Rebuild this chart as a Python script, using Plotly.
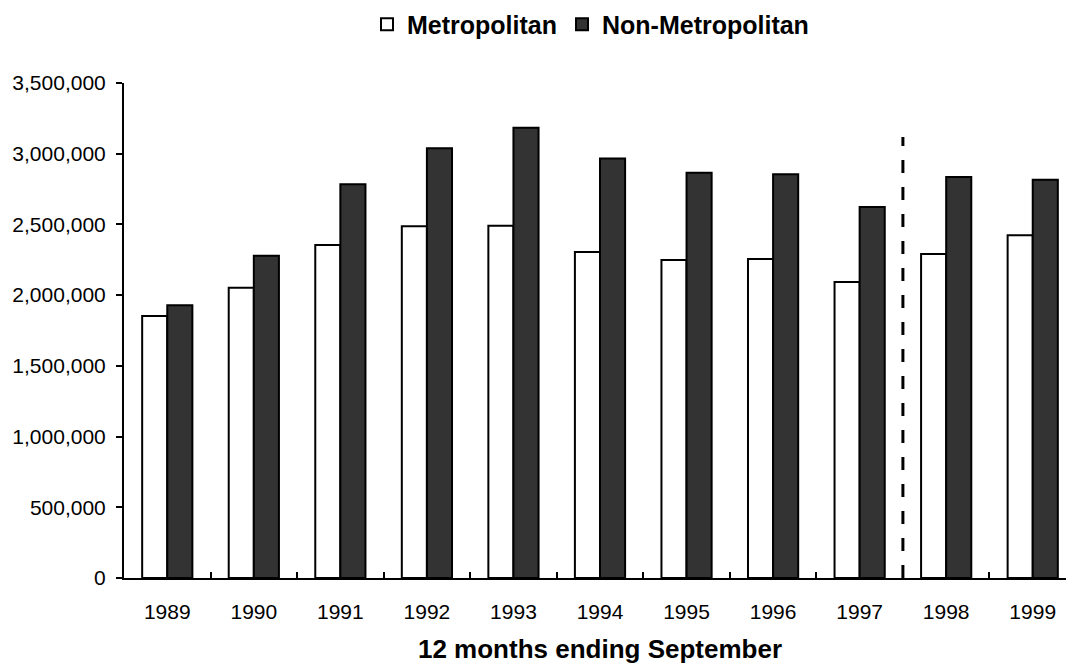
import plotly.graph_objects as go

years = ["1989", "1990", "1991", "1992", "1993", "1994", "1995", "1996", "1997", "1998", "1999"]
metropolitan = [1853000, 2053000, 2355000, 2487000, 2490000, 2305000, 2248000, 2256000, 2093000, 2291000, 2423000]
non_metropolitan = [1928000, 2279000, 2784000, 3038000, 3184000, 2967000, 2866000, 2854000, 2623000, 2835000, 2816000]
y_ticks = [0, 500000, 1000000, 1500000, 2000000, 2500000, 3000000, 3500000]
divider_top = 3118000

FONT = "Liberation Sans, Arial, sans-serif"

fig = go.Figure()
fig.add_trace(go.Bar(x=years, y=metropolitan, name="Metropolitan",
                     marker=dict(color="#ffffff", line=dict(color="#000000", width=2))))
fig.add_trace(go.Bar(x=years, y=non_metropolitan, name="Non-Metropolitan",
                     marker=dict(color="#333333", line=dict(color="#000000", width=2))))

fig.add_shape(type="line", xref="x", yref="y", x0=8.5, x1=8.5, y0=0, y1=divider_top,
              line=dict(color="#000000", width=3, dash="13px,14px"))

fig.update_layout(
    width=1074, height=672,
    margin=dict(l=116, r=6, t=75, b=102, autoexpand=False),
    paper_bgcolor="#ffffff", plot_bgcolor="#ffffff",
    barmode="group", bargap=0.42, bargroupgap=0,
    font=dict(family=FONT, size=21, color="#000000"),
    showlegend=True,
    legend=dict(orientation="h", x=0.49, xanchor="center", y=1.118, yanchor="middle",
                font=dict(family=FONT, size=25, weight="bold"), itemwidth=30,
                traceorder="normal", bgcolor="rgba(0,0,0,0)", tracegroupgap=0),
    xaxis=dict(type="category", range=[-0.5, 10.5], showline=True, linecolor="#000000", linewidth=2,
               ticks="inside", tickson="boundaries", ticklen=6, tickwidth=2, tickcolor="#000000",
               showgrid=False, tickfont=dict(size=21), ticklabelstandoff=14,
               title=dict(text="12 months ending September", font=dict(size=26, weight="bold"), standoff=18)),
    yaxis=dict(range=[0, 3500000], tickvals=y_ticks, tickformat=",d", showline=True, linecolor="#000000",
               linewidth=2, ticks="outside", ticklen=6, tickwidth=2, tickcolor="#000000",
               showgrid=False, zeroline=False, tickfont=dict(size=21), ticklabelstandoff=6),
)

fig.write_html("out.html")
